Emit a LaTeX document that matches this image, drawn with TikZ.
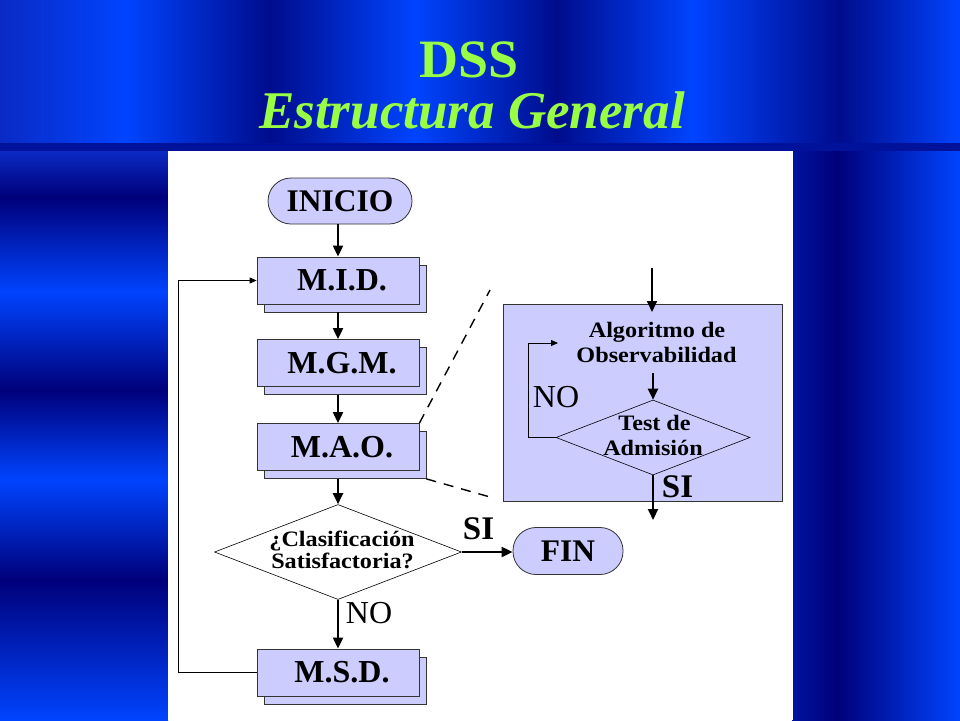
\documentclass[tikz,border=0pt]{standalone}
\usepackage{fontspec}
\setmainfont{Liberation Serif}
\newfontfamily\widefont[FakeStretch=1.1]{Liberation Serif}
\usetikzlibrary{shapes.geometric,shadows,arrows.meta,calc}
\definecolor{lav}{HTML}{CCCCFF}
\definecolor{bbright}{HTML}{0044FF}
\definecolor{bdark}{HTML}{000C8C}
\definecolor{bvdark}{HTML}{00007A}
\definecolor{bmed}{HTML}{0A2AC4}
\definecolor{bmedb}{HTML}{0014A0}
\definecolor{ttl}{HTML}{99FF44}
\definecolor{band}{HTML}{00129A}
\begin{document}
\begin{tikzpicture}[x=1pt,y=-1pt,
  boxnode/.style={rectangle, draw=black!80, fill=lav, line width=0.8pt,
    minimum width=162pt, minimum height=47pt, inner sep=0pt,
    copy shadow={shadow xshift=7pt, shadow yshift=-8pt},
    font=\fontsize{32}{36}\selectfont\bfseries},
  term/.style={rectangle, rounded corners=23pt, draw=black!80, fill=lav,
    line width=0.8pt, inner sep=0pt, font=\fontsize{31.5}{36}\selectfont\bfseries},
  arr/.style={line width=2pt, -{Triangle[length=11pt,width=10pt]}},
  thinarr/.style={line width=0.9pt, -{Triangle[length=7pt,width=6pt]}},
  silbl/.style={font=\fontsize{33}{36}\selectfont\bfseries, inner sep=0pt},
  nolbl/.style={font=\fontsize{32}{36}\selectfont, inner sep=0pt},
  smalltxt/.style={font=\widefont\fontsize{22}{22}\selectfont\bfseries, inner sep=0pt, anchor=base},
  dashline/.style={line width=1.4pt, dash pattern=on 10pt off 8pt},
  ttlfont/.style={font=\fontsize{54}{60}\selectfont\bfseries, inner sep=0pt, anchor=base},
  subfont/.style={font=\fontsize{53}{60}\selectfont\bfseries\itshape, inner sep=0pt, anchor=base}
]
\useasboundingbox (0,0) rectangle (960,720);
% ---------- background ----------
\fill[bmed] (0,0) rectangle (960,720);
\foreach \a/\b/\ca/\cb in {0/125/bmed/bbright, 125/270/bbright/bdark, 270/415/bdark/bbright,
  415/557/bbright/bdark, 557/693/bdark/bbright, 693/840/bbright/bdark, 840/960/bdark/bbright}
  \shade[left color=\ca, right color=\cb] (\a-0.5,0) rectangle (\b+0.5,143.5);
\foreach \a/\b/\ca/\cb in {151/197/bmed/bvdark, 197/292/bvdark/bbright, 292/390/bbright/bvdark,
  390/480/bvdark/bbright, 480/580/bbright/bvdark, 580/720/bvdark/bbright}
  \shade[top color=\ca, bottom color=\cb] (0,\a-0.5) rectangle (168,\b+0.5);
\shade[left color=bmedb, right color=bvdark] (792,151) rectangle (837.5,720);
\shade[left color=bvdark, right color=bbright] (837,151) rectangle (960,720);
\fill[band] (0,143) rectangle (960,151);
\fill[white] (168,151) rectangle (793,720);
% ---------- title ----------
\node[ttlfont, text=ttl] (dss) at (469,77) {DSS};
\node[subfont, text=ttl] (sub) at (472,128) {Estructura General};
% ---------- main flow ----------
\node[term, minimum width=144pt, minimum height=46pt] (inicio) at (340,201) {INICIO};
\node[boxnode] (mid) at (338,280.5) {\hspace*{8pt}M.I.D.};
\node[boxnode] (mgm) at (338,363) {\hspace*{8pt}M.G.M.};
\node[boxnode] (mao) at (338,447) {\hspace*{8pt}M.A.O.};
\node[diamond, draw=black, line width=0.6pt, fill=white, minimum width=247pt,
  minimum height=95pt, inner sep=0pt] (dia) at (338,552) {};
\node[smalltxt] (diat1) at (342,546) {¿Clasificación};
\node[smalltxt] (diat2) at (342.5,568) {Satisfactoria?};
\node[term, minimum width=110pt, minimum height=47pt] (fin) at (568,551) {FIN};
\node[boxnode] (msd) at (338,672.5) {\hspace*{8pt}M.S.D.};
\node[silbl] (si1) at (478.5,529) {SI};
\node[nolbl] (no1) at (369,613) {NO};

\draw[arr] (inicio.south -| mid.north) -- (mid.north);
\draw[arr] ($(mid.south)+(0,8)$) -- (mgm.north);
\draw[arr] ($(mgm.south)+(0,8)$) -- (mao.north);
\draw[arr] ($(mao.south)+(0,8)$) -- (dia.north);
\draw[arr] (dia.south) -- (msd.north);
\draw[arr] (dia.east) -- (dia.east -| fin.west);
\coordinate (loopx) at (178,672.5);
\draw[thinarr] (msd.west) -- (loopx) |- (mid.west);

% ---------- inset ----------
\node[rectangle, draw=black!80, fill=lav, line width=0.8pt, minimum width=279pt,
  minimum height=197pt, inner sep=0pt] (inset) at (642.5,402.5) {};
\coordinate (dA) at (490,290);
\coordinate (dB) at (490,497);
\draw[dashline] (mao.north east) -- (dA);
\draw[dashline] ($(mao.south east)+(7,8)$) -- (dB);
\node[smalltxt] (algo1) at (657,337) {Algoritmo de};
\node[smalltxt] (algo2) at (656.5,362) {Observabilidad};
\node[diamond, draw=black, line width=0.6pt, minimum width=194pt,
  minimum height=75pt, inner sep=0pt] (idia) at (653,437.5) {};
\node[smalltxt] (test1) at (654.5,430) {Test de};
\node[smalltxt] (test2) at (653,455) {Admisión};
\node[nolbl] (no2) at (556,397) {NO};
\node[silbl] (si2) at (677.5,487) {SI};
\coordinate (intop) at (652,268);
\coordinate (inend) at (652,312);
\coordinate (obsout) at (653,373);
\coordinate (loopend) at (558,343);
\coordinate (outend) at (653,520);
\draw[arr] (intop) -- (inend);
\draw[arr] (obsout) -- (idia.north);
\draw[thinarr] (idia.west) -- (528,437.5) |- (loopend);
\draw[arr] (idia.south) -- (outend);
\end{tikzpicture}
\end{document}
